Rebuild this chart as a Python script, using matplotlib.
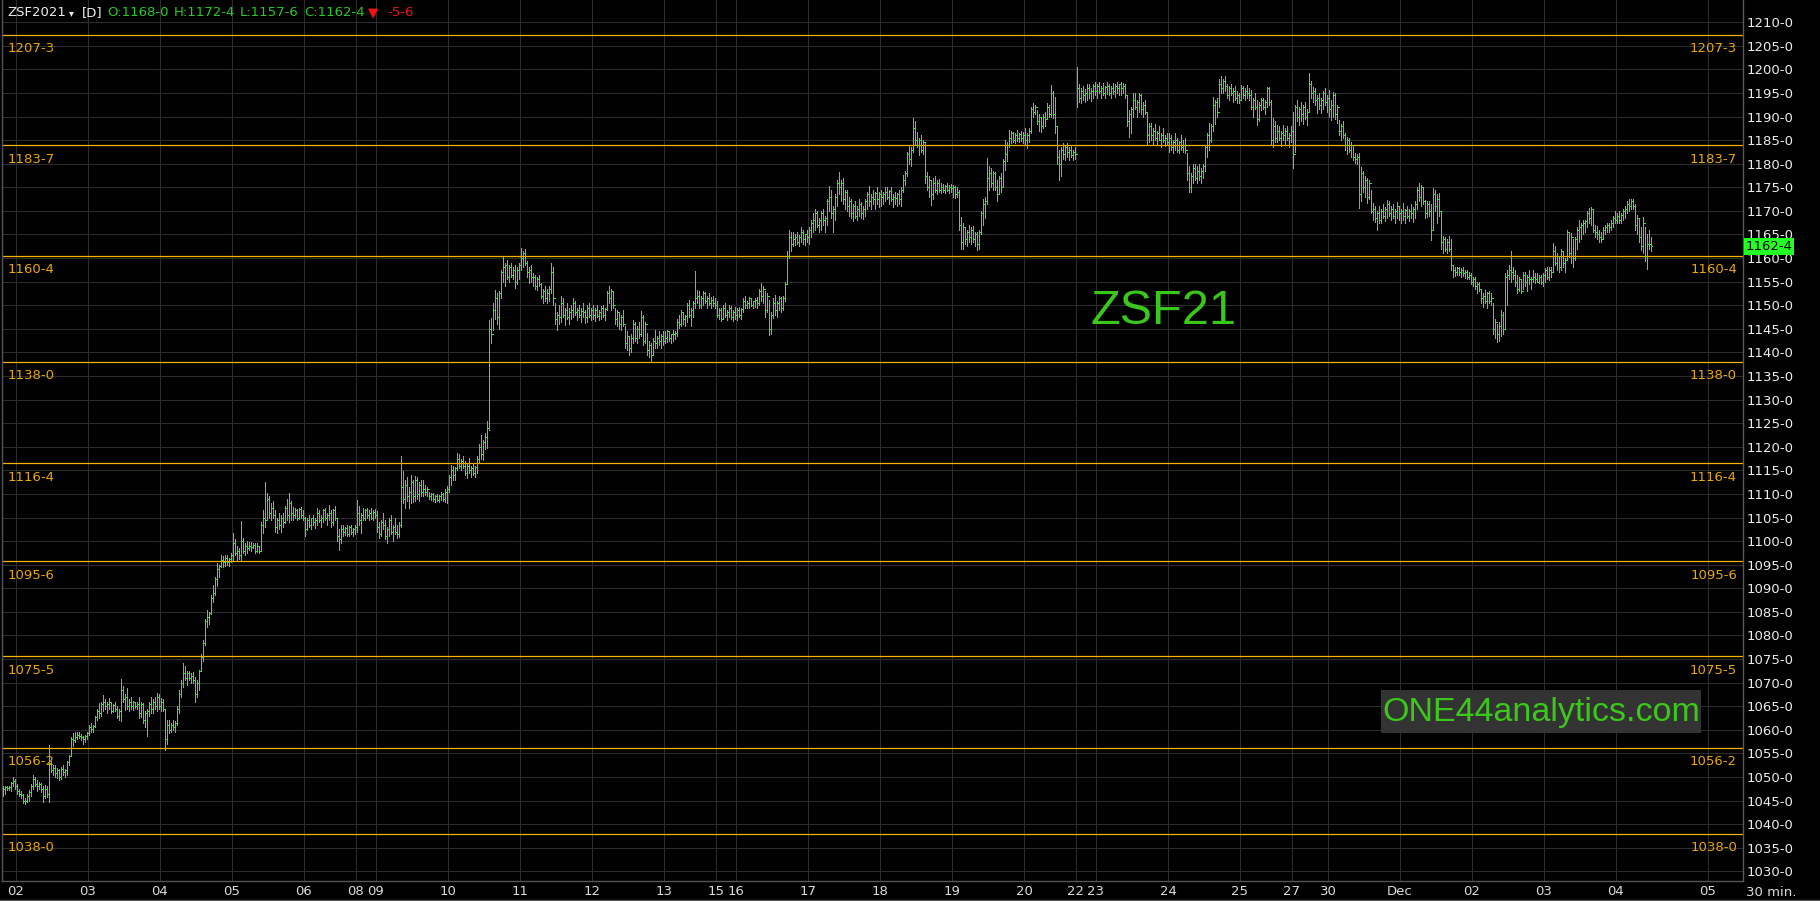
import matplotlib
matplotlib.use("Agg")
import matplotlib.pyplot as plt
from matplotlib.collections import LineCollection
from matplotlib.patches import Rectangle
from matplotlib.lines import Line2D
import matplotlib.transforms as mtransforms
import numpy as np

# ---------------- DATA (30-min bars: low, high, close) ----------------
s_nov01 = [(1046,1048,1047.5),(1046.5,1048,1047.8),(1047.3,1048.2,1047.6),(1047.2,1048,1047.8),(1047,1049,1048.8),(1048,1050,1049.2),(1047.5,1049.5,1048)]
s_nov02 = [(1046.5,1048.5,1047),(1046,1047.5,1046.5),(1045.5,1047,1046.2),
(1044.5,1046.5,1045),(1044.3,1045.5,1045),(1044.8,1046.5,1046),
(1045,1047.3,1046.8),(1046,1048.5,1048.2),
(1047.5,1050.4,1049.5),(1048,1050,1048.5),
(1047,1049.4,1048),(1047.5,1049,1048.6),(1046.9,1048.8,1047.5),
(1044.8,1048,1046),(1045.5,1048.3,1047.5),
(1045.8,1048,1046.5),
(1044.8,1056.8,1053),
(1051,1053.3,1051.5),(1050.5,1052.5,1052),(1050.1,1052.6,1050.8),(1049.8,1052,1051.5),
(1049.4,1051.8,1050),(1049.6,1052.2,1051.8),
(1050.5,1052.6,1051),(1050.1,1051.8,1051.5),
(1050.4,1053.5,1053.2),(1052.5,1054.7,1054.5),
(1054.5,1058.5,1058),(1056.5,1059.3,1057.8),
(1057.5,1059.5,1058.5),(1058,1059.6,1059),(1058.2,1059.5,1058.6),(1057.9,1059.2,1058.4),(1057,1058.8,1058),(1057.5,1059,1058.8),(1058,1059.6,1059.4)]
s_nov03 = [(1059,1061,1060.5),(1059.5,1061.4,1060.2),(1059.5,1061,1060.8),
(1060.5,1063,1062.8),(1062,1064.5,1064),(1062.5,1065.6,1063.5),
(1063,1066,1065.5),(1064,1067.4,1066),(1064.5,1066.5,1065),(1063.5,1065.8,1065.5),
(1064.5,1066.7,1066),(1063.5,1066,1064),(1063.8,1065.5,1065.2),
(1064,1066,1064.5),(1062.5,1065,1063),(1062.1,1064.5,1064),
(1061.8,1070.7,1068.5),
(1066,1069.2,1066.5),(1064.2,1067.5,1067),(1064.5,1068.8,1065),
(1063.9,1066.5,1066),(1064.5,1067,1065),(1064.2,1066.2,1065.8),
(1064.6,1066,1065),(1064.5,1065.8,1065.5),
(1062.5,1067,1063.5),(1062.8,1066,1065.5),
(1061.5,1065.6,1062),(1060.5,1064,1063.5),(1058.6,1064.5,1064),
(1063,1066,1065.5),(1063.5,1067,1064.5),(1063.5,1066.5,1066),(1064.5,1067,1065),(1064,1067.9,1067),(1064.5,1067.5,1065)]
s_nov04 = [(1064,1066.8,1066),(1064,1066.5,1064.5),
(1055.8,1064.5,1058),(1057,1062.1,1061),
(1059.3,1062,1060),(1059.5,1061.5,1061),(1060,1062.1,1060.5),(1059.5,1061.8,1061.5),
(1061,1065,1064.5),(1063.5,1068.5,1067.5),
(1067,1070.5,1070),(1069,1074.1,1072),(1070.5,1073.5,1071),(1069.5,1072.5,1072),
(1070.5,1072.4,1071),(1069.9,1072,1071.5),(1070,1072.2,1070.5),
(1066,1071.3,1067.5),(1067,1070.5,1070),
(1068.5,1072.7,1072.5),
(1072.5,1076,1075.5),(1074.5,1079.1,1078.5),
(1078,1083.5,1083),(1081.9,1085.4,1084),(1082.5,1085,1084.8),
(1084.5,1088.5,1088),(1087,1090.7,1089),
(1088.5,1092.5,1092),(1090.5,1095.3,1094),(1092.5,1095,1094.8),
(1094.5,1097.1,1096),(1094.6,1096.8,1095.5),
(1094.8,1097,1096.5),(1095,1097,1095.5),(1094.8,1096.5,1096.2),(1095.5,1097.5,1097)]
s_nov05 = [(1096,1101.7,1099.5),(1097,1100.5,1097.5),
(1096,1098.9,1098),(1096.2,1098.5,1097),
(1096,1104.2,1100),
(1097.5,1100.6,1098),(1097.1,1099.5,1099),(1097.5,1100,1098.5),
(1098.2,1099.9,1099),(1098,1099.8,1098.8),(1098.5,1099.5,1099.2),
(1097.5,1099.6,1098),(1097.8,1099.5,1099),(1097.5,1099,1098),
(1098,1104,1103.5),(1101.7,1106.6,1105),(1103,1112.6,1104.5),
(1104.5,1110.2,1109),(1105,1109.5,1106),(1104.5,1108,1107),(1105,1108.5,1105.5),
(1102,1106.6,1103),(1101.7,1105,1104.5),(1102.5,1106,1103.5),(1102,1105.5,1105),(1103,1106,1104),
(1103.8,1107.5,1107),(1104.5,1109,1105.5),(1104,1110.2,1108),(1104.5,1108.5,1106),
(1104.5,1107.3,1105.5),(1104.8,1107,1106.5),(1104.5,1106.8,1105),(1104.6,1107,1106.8),(1105,1107.3,1105.5),(1104.5,1106.5,1105)]
s_nov06 = [(1101,1105.2,1102.5),
(1102.4,1105,1104.5),(1103,1105.6,1103.5),(1102.5,1105,1104.8),(1103.5,1105.5,1104),(1102.8,1104.8,1104.5),
(1103.5,1107,1106),(1104,1106.5,1104.5),(1103.1,1105.5,1105),(1104,1106.8,1106.5),(1104.5,1107,1105),
(1103.5,1106,1105.5),(1104.5,1107.7,1106),(1103.1,1106.5,1104),(1103.5,1106.8,1106.5),(1104.5,1107.5,1105),
(1100,1105,1101),(1098.2,1102.5,1100.5),(1099.5,1103.5,1102.5),
(1101,1103.5,1102),(1101.2,1103,1102.8),(1101,1103.5,1101.5),(1101,1103.2,1103),(1101.5,1103.5,1102),(1101,1102.8,1102.5),(1101.5,1103.5,1103)]
s_nov08 = [(1102,1108.8,1106),(1103.5,1107.5,1104.5),(1101.7,1106,1105.5),
(1104.5,1107,1105),(1104.5,1106.8,1106.5),(1104.8,1107,1105.5),(1104.5,1106.5,1106),(1104.6,1107,1105),(1104.5,1106.5,1106.2),(1104.8,1106.8,1105.5)]
s_nov09 = [(1102,1106.3,1103),(1100.6,1104,1101.5),(1101,1104.5,1104),
(1102.5,1105.9,1103.5),(1100.5,1104.5,1101),(1099.6,1103,1102.5),(1101,1105,1104.5),(1101.5,1105.5,1102),(1100,1103.5,1103),
(1101.5,1104.9,1102),(1100.6,1103.5,1101.5),(1100.8,1104,1103.5),
(1103,1118,1111.5),
(1108,1114.8,1109),(1107,1113,1112),(1108.5,1113.5,1109.5),(1107,1111.5,1110.5),(1108,1114,1112.5),
(1108.4,1113,1109.5),(1108.5,1113.7,1113),(1109,1113.5,1110),(1108.5,1112.5,1112),(1109.5,1113,1110.5),
(1109.5,1113,1111),(1109.8,1111.8,1110.5),(1109.5,1111.5,1111),
(1109,1110.5,1109.5),(1108.8,1110.3,1110),(1108.5,1110.2,1109),(1108.4,1109.8,1109.5),(1108.6,1110,1108.8),(1108.4,1109.8,1109.5),(1108.8,1110.5,1110),(1108.5,1110.2,1109),(1108.4,1111,1110.5),
(1108,1111.6,1111)]
s_nov10 = [(1110.5,1114,1113.5),(1112,1116.2,1115),(1113,1116,1114),(1113,1115.8,1115.5),
(1115,1118.7,1117.5),(1115.5,1118.5,1116),(1115.1,1117.5,1117),(1115.5,1118,1116),
(1114,1117,1114.5),(1113.3,1116.5,1116),(1114.5,1117.6,1115),(1113.5,1116,1115.5),(1114,1116.5,1114.5),(1113.5,1116,1115.8),(1114.5,1118,1117.5),
(1116.5,1120.5,1120),(1117.5,1122.5,1118.5),(1117.2,1121.5,1121),
(1119.5,1123,1122),(1119.7,1125.4,1124),
(1123.6,1146.9,1145),
(1142,1147.3,1144),
(1144.8,1150.5,1149),(1147,1153.3,1151.5),(1146,1152.5,1147.5),(1145,1153,1152.5),
(1151.5,1157.5,1157),(1155,1160.3,1158),(1154,1159,1158.5),
(1155.5,1159.6,1156),(1155,1158.5,1158),(1156,1159,1156.5),(1155.5,1158,1157.5),(1153.6,1158.5,1155),(1154.5,1158,1157.5),(1155.5,1159,1158.5)]
s_nov11 = [(1157.5,1162.1,1160),(1158,1161.5,1161),(1158.5,1162,1159),
(1156,1159.3,1157),(1154.7,1158,1157.5),(1155,1158.5,1156),
(1154,1156.8,1156),(1153.5,1156.5,1154),(1153.3,1156,1155.5),(1154,1156.5,1154.5),
(1151.5,1154.7,1152),(1150.5,1153.5,1153),(1151,1154,1151.5),(1150.5,1153.5,1152.5),(1150.8,1154,1153.5),
(1152.5,1158.9,1157),(1150.1,1158,1151.5),
(1146,1150.5,1147),(1144.8,1148.5,1148),(1146,1150,1147.5),
(1146.5,1151.9,1150.5),(1147.5,1151.5,1148),(1145.9,1149.5,1149),(1147,1150.5,1147.5),(1146,1149.5,1148.5),(1147,1150,1149),
(1147.5,1151.5,1150.5),(1148,1151,1148.5),(1146.9,1149.5,1149),(1147.5,1150,1148),
(1146.5,1149.5,1148.8),(1147.5,1150.5,1148.5),(1146.2,1149,1147.5),(1146.5,1150,1149.5),(1147.5,1150.5,1148),(1146.8,1149.5,1149)]
s_nov12 = [(1147,1150.1,1148),(1146.6,1149.5,1149),(1147.5,1150,1147.8),(1146.8,1149,1148.5),(1147,1149.8,1149.5),(1147.5,1150,1148),(1146.8,1149.5,1149.2),
(1149,1153,1152.5),(1150.5,1154,1151.5),(1149,1153.5,1153),(1149.5,1153,1150),
(1146,1149.4,1147),(1145.5,1149,1148.5),(1145,1148.5,1146),(1144.8,1148,1147.5),(1145.5,1149,1146),
(1141,1145.5,1142),(1140.5,1144.5,1143.5),(1139.5,1143.5,1141),(1140,1144,1143),
(1142,1146.9,1146),(1142.5,1146.5,1143),(1142,1145.5,1145),(1143,1146.5,1144),
(1143.5,1148.7,1147.5),(1141.6,1148,1142.5),(1142,1146.5,1146),
(1139.5,1144.1,1140.5),(1139,1142.5,1141.5),(1138.1,1142,1139.5),
(1139.5,1143,1142.5),(1141,1144.8,1142),(1140.9,1143.5,1143),(1141.5,1144.5,1142.5),(1141,1144,1143.5),(1141.5,1144.5,1142.5)]
s_nov13 = [(1142,1144.5,1143),(1142.2,1144.8,1144.5),(1142.5,1144.5,1143),(1142,1144,1143.8),(1142.5,1144.8,1144),(1142.8,1144.5,1144.2),
(1143.5,1147,1146.5),(1145.2,1148,1146),(1145.5,1149,1148.5),(1146,1148.5,1147),(1145.5,1148,1147.8),
(1146.5,1150.5,1150),(1147.5,1151.2,1148),(1145.5,1149.5,1149),(1147.5,1151,1150.5),
(1149.4,1157.2,1151.5),
(1150.5,1153.3,1152),(1149.5,1153,1150),(1149.4,1152,1151.5),(1150,1153,1152.5),(1150.5,1152.8,1151),(1149.5,1152,1151.5),(1150,1152.5,1150.5),(1149.5,1151.8,1151.2),(1149.8,1152,1150.5),(1149.4,1151.5,1150)]
s_nov15 = [(1147.5,1150.8,1148),(1147,1149.5,1149),(1146.6,1149.5,1147),(1147,1150,1149.5),(1147.5,1150.5,1148),(1146.8,1149,1148.5),(1147.5,1150,1149.5),(1147,1149.8,1147.5),(1146.6,1149,1148.5),(1147,1149.7,1148)]
s_nov16 = [(1146.9,1149.5,1149),(1147.5,1149.7,1148),(1147,1149.5,1149.2),
(1148.5,1151.5,1151),(1149.5,1151.9,1150),(1149.4,1151,1150.5),(1149.5,1151.8,1151.5),(1149.8,1151.5,1150),(1149.4,1151,1150.8),(1149.6,1151.5,1151.2),(1149.5,1151.8,1150.5),
(1150,1153.5,1153),(1151,1154.7,1152),(1150.5,1154,1153.5),(1147.6,1153,1149),(1148.5,1152.5,1152),
(1143.7,1151.2,1145),(1144,1148.5,1148),
(1147.3,1151.5,1150.5),(1148,1152.2,1149),(1147.5,1151,1150.5),(1149,1152,1151.5),(1148.5,1151.8,1149.5),(1149,1152,1151.5),
(1151,1155,1154.5),
(1154.5,1161.4,1160.5),
(1160,1166,1164.5),(1161.4,1165.5,1163),
(1162.5,1165.5,1164),(1162.8,1165,1164.5),(1163,1165.5,1163.5),(1162.5,1164.8,1164.5),(1163.5,1166.5,1165.5),(1163,1166,1164),(1162.8,1165.2,1165),(1163.5,1166,1164.5)]
s_nov17 = [(1163,1166.5,1166),(1164.5,1168,1167.5),(1165.5,1169.5,1168),(1166,1170.4,1169.5),(1166.5,1170,1167),(1165.5,1168.5,1168),(1166,1170,1169.5),(1167,1170.4,1168),(1165.5,1169,1168.5),
(1167,1172.5,1172),(1170,1175.3,1173),(1168.5,1174.5,1169.5),(1165.5,1171,1170.5),(1168,1173.5,1173),
(1171,1176.5,1176),(1173.5,1178.3,1175),(1172,1176.5,1176),(1171.5,1177,1172.5),(1170.4,1174.5,1174),
(1170,1174.5,1171),(1169,1172.9,1172),(1168.5,1172.5,1169.5),(1167.9,1171.5,1171),(1168.5,1172,1169),(1168,1171,1170.5),(1169,1172.5,1171.5),(1168.5,1171.8,1169.5),(1168.2,1171,1170.5),(1169,1172.5,1172),
(1170.5,1174,1173.5),(1171,1175.3,1172),(1170.4,1173.5,1173),(1171.5,1174.5,1172.5),(1170.5,1174,1173.8),(1171.5,1175,1172.5),(1170.8,1174,1173.5)]
s_nov18 = [(1171,1174.5,1173),(1171.5,1174,1173.5),(1172,1175.1,1174),(1172.5,1175,1173),(1171.5,1174.5,1174.2),(1172,1175.1,1172.5),(1170.9,1173.5,1173),(1171.5,1174,1172.8),(1171,1173.8,1173.5),(1171.5,1174.5,1172.5),(1171,1175,1174.5),
(1174,1177.6,1176.5),(1175.5,1178.5,1178),
(1177.5,1182.5,1182),(1180,1184,1181),(1179.5,1183.5,1183),
(1182.5,1189.6,1187.5),(1184,1189,1185),
(1183.5,1186.8,1184),(1181.9,1185.5,1185),(1182.5,1186,1183),(1182,1185,1184.5),
(1175.9,1184.5,1177.5),
(1174.5,1178.3,1175),(1173,1177.5,1176.5),(1171.3,1176.5,1173.5),(1172.5,1177,1176),(1174,1177.5,1174.5),(1173.5,1176.5,1176),(1174,1176.8,1174.5),
(1173.8,1175.9,1175),(1174,1175.8,1174.5),(1173.7,1175.5,1175.2),(1174.2,1175.9,1174.5),(1173.8,1175.5,1175),(1174,1175.8,1174.8)]
s_nov19 = [(1173,1175.5,1175),(1172.7,1175.3,1173.5),(1173,1175,1174),
(1166,1174.5,1167),(1161.9,1168.8,1163.5),
(1162,1167.4,1166.5),(1163,1166.5,1164),(1162.5,1166,1165.5),(1163.5,1167,1164.5),(1163,1166.5,1166),(1163.5,1166.8,1164),(1162.5,1165.5,1165),(1161.8,1165.5,1163),(1162,1166,1165.5),
(1165,1170,1169.5),(1167,1172.5,1171.5),(1168.5,1173,1172),
(1171.5,1181.2,1177),(1174.4,1179.5,1178),(1175,1179,1176),(1174.5,1178.5,1178),
(1174.5,1178.3,1175),(1172,1176.5,1173.5),(1173.5,1177.5,1177),(1174,1178,1175),
(1175,1181,1180.5),(1178.7,1185,1182),(1180.5,1184.5,1184),
(1183.5,1187.2,1185.5),(1184.3,1187,1186.5),(1184.5,1186.8,1185),(1184.3,1186.5,1186),(1184.8,1187.2,1185.5),(1184.5,1186.5,1186.2),(1184.8,1187,1185.5),(1184.3,1186.8,1186)]
s_nov20 = [(1184,1187.5,1185),(1183.3,1186.5,1186),(1184.5,1187.5,1187),
(1186.5,1192,1191.5),(1190,1192.8,1191),(1190.5,1192.5,1192),
(1188.5,1191.4,1189),(1187,1190.5,1190),(1186.8,1190,1188),(1187.5,1190.5,1190),(1188,1191,1189.5),
(1189.6,1192.8,1192),(1190,1192.5,1190.5),
(1190,1196.7,1195),(1189.6,1195.5,1190.5),
(1186.5,1194.2,1188),
(1180,1187.9,1181.5),(1176.6,1183,1180),(1177.5,1183.5,1183),
(1181,1184.3,1182),(1180.8,1183.8,1183.5),(1181.5,1184.3,1182.5),(1180.8,1183.5,1183),(1181.5,1184,1181.8),(1180.8,1183,1182.5),(1181,1183.5,1182)]
s_nov22 = [(1192.1,1200.6,1196),(1193,1197,1194),(1192.8,1196,1195.5),(1193.5,1196.5,1194.5),(1193,1195.8,1195),(1193.5,1196.8,1196),(1194,1197,1195),(1193.2,1196,1195.5),(1194,1197,1196.5),(1194.5,1197.4,1195.5)]
s_nov23 = [(1194,1197,1196.5),(1195,1197.4,1195.5),(1193.9,1196.5,1196),(1194.5,1197.2,1195),(1194,1196.5,1196.2),(1194.8,1197.4,1196.5),(1194.5,1197,1195),(1194,1196.5,1196),(1194.8,1197.2,1195.5),(1194.2,1196.8,1196.5),(1195,1197.4,1196),(1194.5,1197,1196.8),
(1194.5,1197.4,1196),(1195,1197.2,1196.5),(1194,1197,1194.5),
(1188,1194.5,1189),(1185.7,1191.4,1190.5),(1186.5,1192,1191.5),
(1190,1195,1193.5),(1191.5,1195,1192),(1190,1193.5,1193),(1191,1195,1194.5),(1190.5,1194.8,1191.5),(1190,1193,1192.5),(1190.5,1193.5,1191),
(1184,1191,1186),(1184.5,1188.6,1188),
(1185,1188.6,1186),(1184,1187.5,1187),(1185,1188.5,1185.5),(1184,1187,1186.5),(1185,1188,1185),(1183.6,1186.5,1186),(1184.5,1187.5,1185),(1183.8,1186,1185.5),(1184,1186.5,1184.5)]
s_nov24 = [(1182.5,1186.5,1185.5),(1183,1186,1183.5),(1182.2,1185,1184.5),(1183,1186.5,1185),(1182.5,1185.5,1183),(1182.2,1184.8,1184.5),(1183,1186,1183.5),(1182.5,1185,1184),(1182.2,1185.5,1183),
(1176.5,1182.2,1178),(1173.9,1179.5,1175),(1174,1178,1177.5),
(1176,1180,1179),(1176.5,1180,1177),(1175.9,1179.5,1178.5),(1176.5,1180,1177.5),(1176,1179,1178.5),(1177,1180,1179.5),
(1178.5,1184,1183.5),(1181.5,1186.5,1186),(1183,1188.6,1185),(1184.5,1188.5,1188),
(1187,1194.2,1192.5),(1188.5,1193.5,1193),(1190,1194,1191),
(1192,1198,1197),(1194.9,1198.5,1196),(1195,1198,1197.5),(1195.5,1198.5,1196.5),
(1194,1197,1194.5),(1193.5,1196.5,1196),(1194.5,1197,1195),(1193,1196,1195.5),(1193.5,1196.5,1194),(1192.8,1195.5,1194.5),(1192.8,1195,1193.5)]
s_nov25 = [(1193.5,1196.7,1196),(1194,1196.5,1194.5),(1193.5,1196,1195.5),(1194,1196.7,1195),(1193.5,1196,1194.5),
(1191.5,1195.6,1192),(1190,1194,1193.5),(1191.5,1195,1192),(1188.2,1193.5,1189.5),(1189,1193,1192.5),
(1191.4,1194,1193.5),(1191.5,1194,1192),(1190.5,1193.5,1193),
(1192,1196.3,1196),(1192.5,1196.3,1193),
(1184,1193.5,1185),(1183.6,1189.6,1188),(1184.5,1189,1185.5),
(1184.5,1188.2,1187),(1185,1188,1185.5),(1183.8,1187,1186.5),(1185,1188.2,1186),(1184,1187.5,1187),(1185,1188,1185.5),(1183.6,1186.5,1186),(1184.5,1188,1187)]
s_nov27 = [(1179,1191,1182),(1182.5,1192.5,1192),(1189,1193.5,1190),(1188.2,1192,1191.5),(1189,1193,1190.5),(1188.5,1192.5,1192),(1189.5,1193,1190),(1188.2,1191.5,1191)]
s_nov29 = [(1191,1199.2,1197),(1194,1197.5,1195),(1193,1196.3,1195.5),(1192.5,1196,1193.5),(1190.7,1194.5,1194),(1191.5,1195,1192.5),(1190.8,1194,1193.5),(1191.5,1195.5,1195),(1192.5,1196,1193),(1191,1194.5,1194)]
s_nov30 = [(1190,1195.6,1191.5),(1189.3,1193.5,1192.5),
(1190,1195.3,1194.5),(1189.5,1195,1190.5),(1188.6,1192.5,1192),
(1186,1189.3,1187),(1185,1188.5,1188),(1185.5,1189,1186),
(1183,1186.5,1184),(1182,1185.7,1185),(1182.5,1185.5,1183),(1181.5,1184.5,1184),(1180.8,1184,1181.5),
(1180.1,1182.2,1181),(1180,1182,1181.5),
(1170.6,1182.2,1173.5),
(1172,1179.4,1178),(1174,1178.5,1175),(1173,1177.5,1176.5),(1171.6,1177,1173),(1172.5,1176.5,1176),
(1169.5,1174.5,1170),(1168,1171.6,1170.5),(1167.7,1171,1168.5),(1166,1170,1169.5),(1167.5,1171,1168),
(1167.4,1170.5,1170),(1168.5,1171.5,1169),(1167.8,1170.8,1170.5),(1168.5,1172.3,1171.5),(1169,1172,1169.5),(1168,1171,1170.5),(1168.5,1171.5,1169),(1167.5,1170.5,1170),(1168.5,1171.8,1171),(1168,1171,1169.5)]
s_dec01 = [(1167.5,1170.5,1170),(1168,1171.6,1169),(1167.4,1170.5,1170.2),(1168.5,1171,1169),(1167.8,1170.5,1170),(1168.5,1171.5,1169.5),(1167.6,1170.8,1170.5),(1168.5,1172,1171.5),
(1170.5,1175,1174.5),(1172,1175.9,1173),(1171,1175.5,1175),(1171.5,1175,1172),
(1168.5,1172.3,1169.5),(1168.8,1172,1171.5),(1169,1172,1170),
(1163.9,1171.5,1166),
(1166,1174.8,1173.5),(1170,1174.5,1171),(1167.4,1173.5,1172.5),(1169,1173.8,1170),
(1162,1170,1163.5),(1161,1164.6,1164),(1161.5,1164.5,1162),(1161,1164,1163.5),(1161.5,1164.6,1162),(1157.5,1164,1158.5),
(1156,1158.5,1157.5),(1156.2,1158.2,1157),(1156.5,1158,1157.8),(1156.5,1158.2,1157),(1156,1157.8,1157.5),(1156.2,1158,1156.8),(1155.7,1157.5,1157),(1155.5,1157.5,1156),(1155.5,1157,1156.5),(1154.5,1156.8,1155)]
s_dec02 = [(1154,1156,1155.5),(1153.5,1156,1154),(1152.5,1155,1154.5),(1153,1155,1153.5),
(1150.5,1153.3,1151.5),(1149.7,1152.5,1152),(1150.5,1153.3,1151),(1149.5,1152.8,1152.5),(1150.5,1153,1151),(1150,1152.5,1151.5),
(1144,1150.4,1145),(1143,1147,1146.5),(1142.3,1146,1144),(1142.5,1146.5,1145.5),
(1143.4,1149,1148),(1144,1148.5,1145),
(1145,1156.8,1156),(1150,1157.5,1156.5),
(1155.5,1158.5,1157.5),(1155,1161.5,1157),
(1155.5,1158,1156.5),(1154,1157.5,1155),(1152.5,1156.5,1153.5),(1153,1156,1155.5),(1152.5,1155.5,1153),(1153.5,1157,1156.5),(1154,1157,1155),(1153,1156.5,1156),(1154.5,1157.5,1155.5),(1153.5,1156,1155.5),
(1155,1157.5,1156),(1154.7,1156.8,1155.5),(1155,1156.8,1155),(1154.8,1156.5,1156),(1154.5,1156.5,1155),(1154,1156.8,1156.5)]
s_dec03 = [(1155,1157.8,1157.5),(1155.5,1158.2,1156),(1155.4,1158,1157.5),(1156,1158.2,1157),
(1157,1163.2,1161.5),(1158.5,1162.5,1159),(1157.5,1161,1160.5),(1157.1,1160.5,1158),(1157.5,1162,1161.5),(1158,1161.5,1159),(1157.1,1160,1159.5),
(1159.5,1166,1165.5),(1160.3,1165.5,1161),
(1159,1165.3,1164.5),(1158.2,1164,1160),(1159.5,1164.5,1164),
(1162,1166.5,1166),(1163.5,1168.1,1166.5),(1164,1167.5,1167),(1165,1168.1,1167.5),(1165.5,1168,1167.8),
(1166.5,1170,1169.5),(1167.5,1170.6,1168.5),(1167,1170.9,1170.5),
(1165.5,1170.5,1166),(1164.5,1167,1165.5),(1164,1166.7,1165),(1163.5,1166,1164.5),(1163.5,1165.5,1164),
(1164,1166.5,1166),(1165,1167,1166.5),(1165.5,1167.5,1167),(1165.5,1167.5,1166.5),(1166,1168,1167.5),
(1166.5,1169,1168.5),(1167.5,1169.9,1168)]
s_dec04 = [(1167.4,1169.5,1169),(1167.5,1169.9,1168),(1167.4,1169.5,1169.2),(1168,1170.5,1170),(1168.5,1171,1170.5),
(1169.5,1172,1171.5),(1170,1172.5,1171),(1170.5,1172.5,1172),(1170.5,1172.5,1171),
(1166,1171.5,1167),(1165,1169.2,1168.5),(1163.5,1168.5,1164.5),(1161.7,1166.5,1162.5),
(1161,1168.8,1167.5),(1159.3,1166.5,1160.5),
(1157.75,1165,1163),
(1162,1166,1163),(1161.5,1164.5,1162.5)]

# session label (shown at session start) and its bars
sessions = [("", s_nov01), ("02", s_nov02), ("03", s_nov03), ("04", s_nov04), ("05", s_nov05),
            ("06", s_nov06), ("08", s_nov08), ("09", s_nov09), ("10", s_nov10), ("11", s_nov11),
            ("12", s_nov12), ("13", s_nov13), ("15", s_nov15), ("16", s_nov16), ("17", s_nov17),
            ("18", s_nov18), ("19", s_nov19), ("20", s_nov20), ("22", s_nov22), ("23", s_nov23),
            ("24", s_nov24), ("25", s_nov25), ("27", s_nov27), ("", s_nov29), ("30", s_nov30),
            ("Dec", s_dec01), ("02", s_dec02), ("03", s_dec03), ("04", s_dec04)]
future_label = "05"
future_label_slots = 46   # bar slots after start of last session

level_values = [1207.375, 1183.875, 1160.5, 1138.0, 1116.5, 1095.75, 1075.625, 1056.25, 1038.0]
level_labels = ["1207-3", "1183-7", "1160-4", "1138-0", "1116-4", "1095-6", "1075-5", "1056-2", "1038-0"]
price_ticks = list(range(1030, 1211, 5))
last_price = 1162.5
last_price_label = "1162-4"
header_parts = [("ZSF2021", "#ececec"), ("\u25BE", "#ececec"), ("[D]", "#ececec"),
                ("O:1168-0", "#22cc22"), ("H:1172-4", "#22cc22"), ("L:1157-6", "#22cc22"),
                ("C:1162-4", "#22cc22"), ("\u25BC", "#ff1010"), ("-5-6", "#ee1111")]
header_x = [7, 69, 82, 107, 174, 240, 304, 368, 387]

# ---------------- FIGURE ----------------
W, H, DPI = 1820, 901, 100
fig = plt.figure(figsize=(W / DPI, H / DPI), dpi=DPI, facecolor="black")

def fx(px):
    return px / W

def fy(py):
    return 1 - py / H

PL, PR, PT, PB = 2, 1743, 0, 881
ax = fig.add_axes([fx(PL), fy(PB), (PR - PL) / W, (PB - PT) / H])
ax.set_facecolor("black")

lows, highs, closes = [], [], []
starts = []
n = 0
for name, bars in sessions:
    starts.append((name, n))
    for l, h, c in bars:
        lows.append(l); highs.append(h); closes.append(c)
    n += len(bars)
lows = np.array(lows); highs = np.array(highs); closes = np.array(closes)
u = np.arange(n) + 0.5

XMAX = (PR - PL) / 2.0
ax.set_xlim(0, XMAX)
ax.set_ylim(1027.96, 1214.7)

GRID = "#2c2c2c"
for p in price_ticks:
    ax.axhline(p, color=GRID, lw=0.8, zorder=0)
tick_pos, tick_lab = [], []
for name, s in starts:
    if name:
        tick_pos.append(s); tick_lab.append(name)
tick_pos.append(starts[-1][1] + future_label_slots); tick_lab.append(future_label)
for t in tick_pos:
    ax.axvline(t, color=GRID, lw=0.8, zorder=0)

# level lines
ORANGE = "#f5b400"
for v in level_values:
    ax.axhline(v, color=ORANGE, lw=0.9, zorder=1)
trans = mtransforms.blended_transform_factory(ax.transAxes, ax.transData)
trans_lab = mtransforms.offset_copy(trans, fig=fig, x=0, y=-14, units="dots")
for v, lab in zip(level_values, level_labels):
    ax.text((8 - PL) / (PR - PL), v, lab, transform=trans_lab, color="#e8a800",
            fontsize=9.5, va="center", ha="left", zorder=2)
    ax.text((1737 - PL) / (PR - PL), v, lab, transform=trans_lab, color="#e8a800",
            fontsize=9.5, va="center", ha="right", zorder=2)

# OHLC bars
GREEN = "#2af02a"
vsegs = [[(x, l), (x, h)] for x, l, h in zip(u, lows, highs)]
csegs = [[(x, c), (x + 0.5, c)] for x, c in zip(u, closes)]
osegs = [[(x - 0.5, c), (x, c)] for x, c in zip(u[1:], closes[:-1])]
for segs in (vsegs, csegs, osegs):
    lc = LineCollection(segs, colors=GREEN, linewidths=0.72, antialiaseds=False, zorder=3)
    ax.add_collection(lc)

# axes styling
ax.spines["top"].set_visible(False)
ax.spines["left"].set_color("#555555")
ax.spines["bottom"].set_color("#555555")
ax.spines["right"].set_color("#5a5a5a")
for sp in ("left", "bottom", "right"):
    ax.spines[sp].set_linewidth(1.0)

ax.yaxis.tick_right()
ax.set_yticks(price_ticks)
ax.set_yticklabels([f"{p}-0" for p in price_ticks])
ax.tick_params(axis="y", length=0, pad=2.5, labelsize=9.5, labelcolor="#ececec")
ax.set_xticks(tick_pos)
ax.set_xticklabels(tick_lab)
ax.tick_params(axis="x", length=0, pad=3, labelsize=9.5, labelcolor="#dcdcdc")

# header
for (txt, col), xp in zip(header_parts, header_x):
    fs = 7 if txt == "\u25BE" else 9.5
    fig.text(fx(xp), fy(13), txt, color=col, fontsize=fs, va="center", ha="left")

# big watermark texts
fig.text(fx(1163), fy(311), "ZSF21", color="#39c81a", fontsize=35,
         family="Liberation Sans", ha="center", va="center")
fig.patches.append(Rectangle((fx(1381), fy(733)), 320 / W, 43 / H, transform=fig.transFigure,
                             facecolor="#333333", edgecolor="none", zorder=1))
fig.text(fx(1541), fy(712), "ONE44analytics.com", color="#3cc81a", fontsize=24.5,
         family="Liberation Sans", ha="center", va="center", zorder=2)

# last price marker
fig.canvas.draw()
yd = ax.transData.transform((0, last_price))[1]
ypx = H - yd
fig.patches.append(Rectangle((fx(1744), fy(ypx + 8.5)), 50 / W, 17 / H, transform=fig.transFigure,
                             facecolor="#22ff22", edgecolor="none", zorder=5))
fig.text(fx(1769), fy(ypx), last_price_label, color="black", fontsize=9.5,
         ha="center", va="center", zorder=6)

fig.text(fx(1746), fy(892), "30 min.", color="#dcdcdc", fontsize=9.5, ha="left", va="center")
fig.add_artist(Line2D([0, 1], [fy(900), fy(900)], transform=fig.transFigure, color="#555555", lw=1))

fig.savefig("out.png", dpi=DPI, facecolor="black")
